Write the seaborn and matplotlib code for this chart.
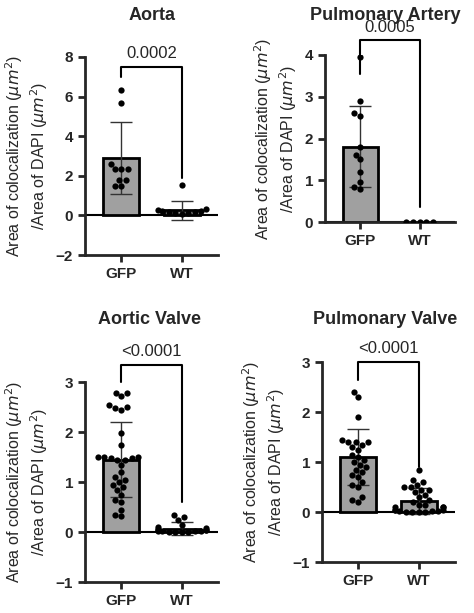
import matplotlib
matplotlib.use("Agg")
import matplotlib.pyplot as plt
import seaborn as sns
import pandas as pd

sns.set_style("ticks")
plt.rcParams['font.family'] = ['Liberation Sans', 'DejaVu Sans']

groups = ["GFP", "WT"]

aorta_gfp = [6.35, 5.7, 2.6, 2.35, 2.35, 2.35, 1.8, 1.8, 1.5, 1.5]
aorta_wt = [1.55, 0.3, 0.25, 0.2, 0.15, 0.1, 0.05, 0.1, 0.2, 0.15]
aorta_mean = [2.9, 0.25]
aorta_sd = [1.82, 0.48]

pa_gfp = [3.95, 2.9, 2.6, 2.55, 1.8, 1.6, 1.5, 1.2, 0.95, 0.85, 0.8]
pa_wt = [0.0, 0.0, 0.0, 0.0, 0.0]
pa_mean = [1.8, 0.0]
pa_sd = [0.97, 0.0]

av_gfp = [2.78, 2.78, 2.72, 2.55, 2.5, 2.48, 2.45, 1.98, 1.75, 1.5, 1.5, 1.5, 1.48, 1.48,
          1.45, 1.45, 1.35, 1.2, 1.1, 1.05, 1.0, 0.95, 0.9, 0.85, 0.75, 0.65, 0.6, 0.45, 0.35, 0.32]
av_wt = [0.35, 0.3, 0.25, 0.15, 0.1, 0.08, 0.05, 0.05, 0.04, 0.03, 0.02, 0.02, 0.01, 0.01,
         0.0, 0.0, 0.03, 0.06]
av_mean = [1.45, 0.07]
av_sd = [0.75, 0.13]

pv_gfp = [2.4, 2.3, 1.9, 1.45, 1.4, 1.4, 1.4, 1.35, 1.3, 1.25, 1.15, 1.1, 1.05, 1.0, 0.95,
          0.9, 0.85, 0.8, 0.75, 0.7, 0.6, 0.55, 0.5, 0.3, 0.25, 0.2]
pv_wt = [0.85, 0.65, 0.6, 0.55, 0.5, 0.5, 0.45, 0.45, 0.4, 0.35, 0.3, 0.25, 0.2, 0.15, 0.1,
         0.1, 0.05, 0.05, 0.03, 0.02, 0.02, 0.01, 0.01, 0.0, 0.0, 0.05, 0.1, 0.15]
pv_mean = [1.1, 0.22]
pv_sd = [0.56, 0.26]

panels = [
    ("Aorta", aorta_gfp, aorta_wt, aorta_mean, aorta_sd, "0.0002", (-2, 8), [-2, 0, 2, 4, 6, 8], 7.0, 1.9, 7.5, [85, 57, 133, 198], (152, 16)),
    ("Pulmonary Artery", pa_gfp, pa_wt, pa_mean, pa_sd, "0.0005", (0, 4), [0, 1, 2, 3, 4], 3.55, 0.35, 4.35, [325, 55, 130, 167], (385, 16)),
    ("Aortic Valve", av_gfp, av_wt, av_mean, av_sd, "<0.0001", (-1, 3), [-1, 0, 1, 2, 3], 3.0, 0.6, 3.35, [85, 382, 133, 200], (150, 320)),
    ("Pulmonary Valve", pv_gfp, pv_wt, pv_mean, pv_sd, "<0.0001", (-1, 3), [-1, 0, 1, 2, 3], 2.65, 0.9, 3.0, [322, 362, 133, 200], (385, 320)),
]

W, H = 474, 613
fig = plt.figure(figsize=(W / 100, H / 100), dpi=100)

for title, g, w, mean, sd, ptxt, ylim, ticks, yl, yr, ytop, (l, t, pw, ph), (tx, ty) in panels:
    ax = fig.add_axes([l / W, 1 - (t + ph) / H, pw / W, ph / H])
    df = pd.DataFrame({"group": ["GFP"] * len(g) + ["WT"] * len(w), "value": g + w})
    mdf = pd.DataFrame({"group": groups, "value": mean})
    sns.barplot(data=mdf, x="group", y="value", order=groups, color="#a0a0a0",
                edgecolor="black", linewidth=2, width=0.6, errorbar=None, ax=ax, zorder=1)
    for i, (m, s) in enumerate(zip(mean, sd)):
        ax.errorbar(i, m, yerr=s, color="#333333", capsize=8, lw=1, capthick=1, zorder=2)
    sns.swarmplot(data=df, x="group", y="value", order=groups, color="black", size=4.5, ax=ax, zorder=3)
    ax.axhline(0, color="black", lw=1.5, zorder=0)
    ax.set_ylim(*ylim)
    ax.set_yticks(ticks)
    ax.set_xlim(-0.6, 1.6)
    ax.set_xlabel("")
    ax.set_ylabel("Area of colocalization ($\\mu m^2$)\n/Area of DAPI ($\\mu m^2$)", fontsize=11.5)
    fig.text(tx / W, 1 - ty / H, title, ha="center", va="center", fontsize=13, fontweight="bold")
    for lab in ax.get_xticklabels() + ax.get_yticklabels():
        lab.set_fontweight("bold")
        lab.set_fontsize(11)
    for sp in ["top", "right"]:
        ax.spines[sp].set_visible(False)
    for sp in ["left", "bottom"]:
        ax.spines[sp].set_linewidth(2)
    ax.tick_params(width=2, length=5)
    ax.plot([0, 0, 1, 1], [yl, ytop, ytop, yr], color="black", lw=1.5, clip_on=False)
    ax.text(0.5, ytop + (ylim[1] - ylim[0]) * 0.03, ptxt, ha="center", va="bottom", fontsize=12, clip_on=False)

fig.savefig("out.png", dpi=100)
